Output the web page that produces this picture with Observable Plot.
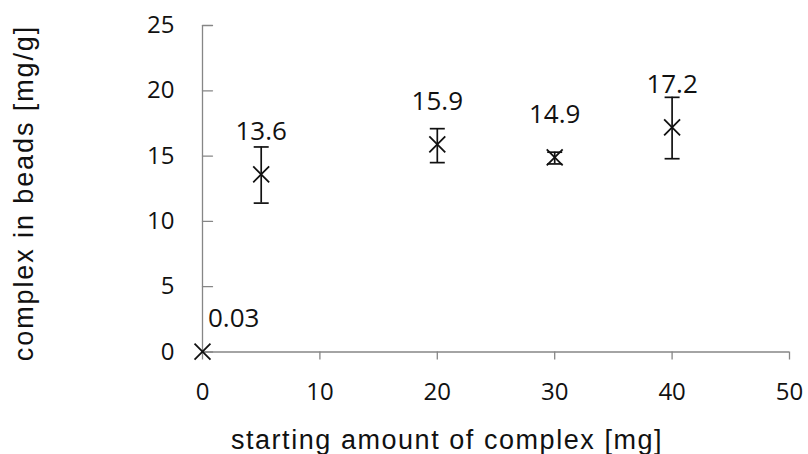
<!DOCTYPE html>
<html><head><meta charset="utf-8">
<script src="https://cdn.jsdelivr.net/npm/d3@7"></script>
<script src="https://cdn.jsdelivr.net/npm/@observablehq/plot@0.6"></script>
<style>
body{margin:0;background:#fff}
text[aria-label="xtitle"]{letter-spacing:1.55px}
text[aria-label="ytitle"]{letter-spacing:1.9px}
</style>
</head><body><div id="chart"></div>
<script>
const amounts = [0, 5, 20, 30, 40];
const loadings = [0.03, 13.6, 15.9, 14.9, 17.2];
const errLow = [null, 11.4, 14.5, 14.4, 14.8];
const errHigh = [null, 15.7, 17.1, 15.3, 19.5];
const valueLabels = ["0.03", "13.6", "15.9", "14.9", "17.2"];
const xTicks = [0, 10, 20, 30, 40, 50];
const yTicks = [0, 5, 10, 15, 20, 25];
const xTitle = "starting amount of complex [mg]";
const yTitle = "complex in beads [mg/g]";

const data = amounts.map((x, i) => ({x, y: loadings[i], lo: errLow[i], hi: errHigh[i], label: valueLabels[i]}));
const bars = data.filter(d => d.lo != null);
const capSymbol = {draw(ctx, size) { const w = Math.sqrt(size / Math.PI); ctx.moveTo(-w, 0); ctx.lineTo(w, 0); }};
const tickShape = {draw(ctx, l) { ctx.moveTo(0, 0); ctx.lineTo(0, -l); }};
const axisGray = "#868686";
const ink = "#111";
const titleFont = "'Liberation Sans', Arial, sans-serif";

const plot = Plot.plot({
  width: 808, height: 454,
  marginLeft: 202, marginRight: 19, marginTop: 25, marginBottom: 102.5,
  style: {fontFamily: "'Open Sans', sans-serif", fontSize: "24px", color: ink, background: "#fff", overflow: "visible"},
  x: {domain: [0, 50], label: null},
  y: {domain: [0, 25], label: null},
  marks: [
    Plot.ruleY([0], {stroke: axisGray, strokeWidth: 1.3}),
    Plot.ruleX([0], {stroke: axisGray, strokeWidth: 1.3}),
    Plot.axisX({ticks: xTicks, tickSize: 8, tickPadding: 23, stroke: axisGray, strokeWidth: 1.3, fill: ink, tickFormat: d => d, label: null}),
    Plot.axisY({ticks: yTicks, tickSize: 0, tickPadding: 28, fill: ink, tickFormat: d => d, label: null}),
    Plot.vector(yTicks, {x: 0, y: d => d, length: 10, rotate: 90, anchor: "start", shape: tickShape, stroke: axisGray, strokeWidth: 1.3}),
    Plot.ruleX(bars, {x: "x", y1: "lo", y2: "hi", stroke: ink, strokeWidth: 1.7}),
    Plot.dot(bars, {x: "x", y: "lo", symbol: capSymbol, r: 7.5, fill: "none", stroke: ink, strokeWidth: 1.7}),
    Plot.dot(bars, {x: "x", y: "hi", symbol: capSymbol, r: 7.5, fill: "none", stroke: ink, strokeWidth: 1.7}),
    Plot.dot(data, {x: "x", y: "y", symbol: "times", r: 7.3, fill: "none", stroke: ink, strokeWidth: 1.8}),
    Plot.text(data.slice(1), {x: "x", y: "y", text: "label", dy: -43, fontSize: 26, fill: ink}),
    Plot.text(data.slice(0, 1), {x: "x", y: "y", text: "label", textAnchor: "start", dx: 5.5, dy: -33, fontSize: 26, fill: ink}),
    Plot.text([xTitle], {frameAnchor: "bottom", text: d => d, textAnchor: "middle", lineAnchor: "bottom", dx: -49, dy: 96.5,
      fontFamily: titleFont, fontSize: 27, fill: ink, ariaLabel: () => "xtitle"}),
    Plot.text([yTitle], {frameAnchor: "left", text: d => d, textAnchor: "middle", rotate: -90, lineAnchor: "bottom", dx: -169.7, dy: 4.25,
      fontFamily: titleFont, fontSize: 27, fill: ink, ariaLabel: () => "ytitle"})
  ]
});
document.getElementById("chart").appendChild(plot);
</script>
</body></html>
